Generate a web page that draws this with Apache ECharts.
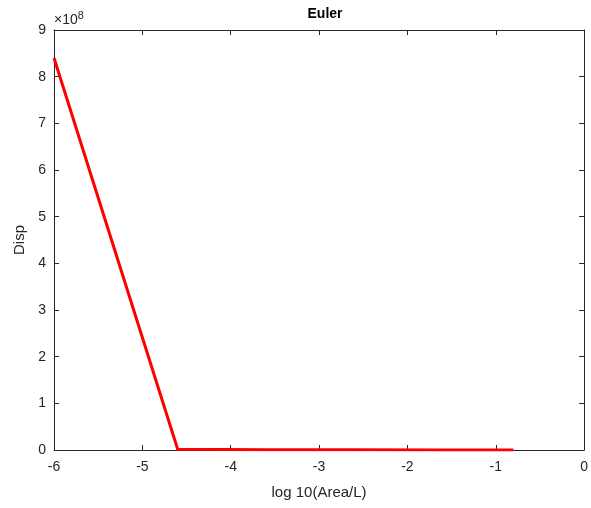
<!DOCTYPE html>
<html><head><meta charset="utf-8">
<script src="https://cdn.jsdelivr.net/npm/echarts@6/dist/echarts.min.js"></script>
<style>html,body{margin:0;padding:0;background:#fff}#c{width:591px;height:508px}</style>
</head><body><div id="c"></div>
<script>
const xValues = [-6, -4.6, -3.6, -2.6, -1.6, -0.8];
const dispValues = [8.4e8, 1.5e6, 6e5, 3e5, 1.5e5, 8e4];
const xTicks = [-6, -5, -4, -3, -2, -1, 0];
const yTicks = [0, 1, 2, 3, 4, 5, 6, 7, 8, 9];

const font = 'Liberation Sans, Arial, Helvetica, sans-serif';
const txt = '#262626';
const chart = echarts.init(document.getElementById('c'));
const axisCommon = {
  axisLine: {show: true, onZero: false, lineStyle: {color: txt, width: 1}},
  axisTick: {show: true, inside: true, length: 5, lineStyle: {color: txt}},
  splitLine: {show: false}
};
chart.setOption({
  animation: false,
  title: {text: 'Euler', left: 320, textAlign: 'center', top: 2,
    textStyle: {fontFamily: font, fontSize: 14, fontWeight: 'bold', color: '#000'}},
  grid: {left: 54, right: 5, top: 30, bottom: 58},
  xAxis: [
    Object.assign({type: 'value', min: -6, max: 0, interval: 1, position: 'bottom',
      name: 'log 10(Area/L)', nameLocation: 'middle', nameGap: 35,
      nameTextStyle: {fontFamily: font, fontSize: 15, color: txt},
      axisLabel: {fontFamily: font, fontSize: 14, color: txt, margin: 10}}, axisCommon),
    Object.assign({type: 'value', min: -6, max: 0, interval: 1, position: 'top',
      axisLabel: {show: false}}, axisCommon)
  ],
  yAxis: [
    Object.assign({type: 'value', min: 0, max: 9e8, interval: 1e8, position: 'left',
      name: 'Disp', nameLocation: 'middle', nameGap: 25,
      nameTextStyle: {fontFamily: font, fontSize: 15, color: txt},
      axisLabel: {fontFamily: font, fontSize: 14, color: txt, margin: 8,
        formatter: v => String(Math.round(v / 1e8))}}, axisCommon),
    Object.assign({type: 'value', min: 0, max: 9e8, interval: 1e8, position: 'right',
      axisLabel: {show: false}}, axisCommon)
  ],
  graphic: [{
    type: 'text', left: 54, top: 10,
    style: {text: '{a|×10}{b|8}', rich: {
      a: {fontFamily: font, fontSize: 14, fill: txt},
      b: {fontFamily: font, fontSize: 11, fill: txt, verticalAlign: 'top', padding: [0,0,9,0]}
    }}
  }],
  series: [{
    type: 'line', xAxisIndex: 0, yAxisIndex: 0,
    data: xValues.map((x, i) => [x, dispValues[i]]),
    showSymbol: false, symbol: 'none',
    lineStyle: {color: '#ff0000', width: 3}
  }]
});
</script></body></html>
